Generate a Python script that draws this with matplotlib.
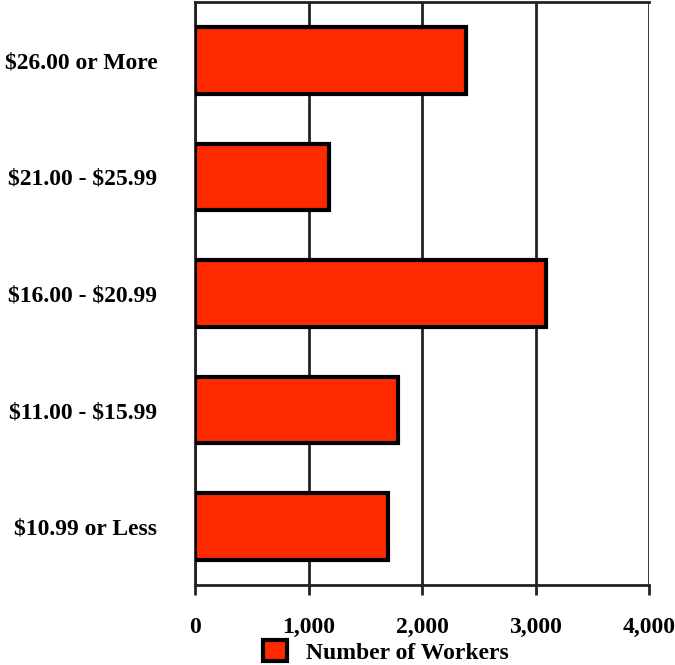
import matplotlib
matplotlib.use("Agg")
import matplotlib.pyplot as plt
from matplotlib.patches import Patch

plt.rcParams["text.parse_math"] = False

categories = ["$10.99 or Less", "$11.00 - $15.99", "$16.00 - $20.99",
              "$21.00 - $25.99", "$26.00 or More"]
workers = [1700, 1790, 3090, 1180, 2390]
x_ticks = [0, 1000, 2000, 3000, 4000]
x_tick_labels = ["0", "1,000", "2,000", "3,000", "4,000"]
series_name = "Number of Workers"

bar_color = "#FF2A00"
font = {"family": "Liberation Serif", "weight": "bold", "size": 17}

fig = plt.figure(figsize=(6.75, 6.65), dpi=100)
ax = fig.add_axes([195 / 675, 1 - 585 / 665, (649 - 195) / 675, (585 - 2) / 665])

ypos = list(range(len(categories)))
ax.barh(ypos, workers, height=0.57, color=bar_color, edgecolor="black",
        linewidth=3, zorder=3)

ax.set_xlim(0, 4000)
ax.set_ylim(-0.5, len(categories) - 0.5)
ax.set_xticks(x_ticks)
ax.set_xticklabels(x_tick_labels, fontdict=font)
ax.set_yticks(ypos)
ax.set_yticklabels(categories, fontdict=font)

ax.xaxis.grid(True, color="#222222", linewidth=2, zorder=1)
ax.set_axisbelow(True)
ax.tick_params(axis="x", direction="out", length=7, width=2, pad=16, color="#222222")
ax.tick_params(axis="y", length=0, pad=27)

for side, sp in ax.spines.items():
    sp.set_color("#222222")
    sp.set_linewidth(2)
ax.spines["right"].set_visible(False)

handle = Patch(facecolor=bar_color, edgecolor="black", linewidth=3)
fig.legend([handle], [series_name], loc="center", bbox_to_anchor=(386 / 675, 1 - 652 / 665),
           frameon=False, prop=font, handlelength=1.0, handleheight=1.0, handletextpad=0.8,
           borderpad=0.2)

fig.savefig("out.png", dpi=100)
